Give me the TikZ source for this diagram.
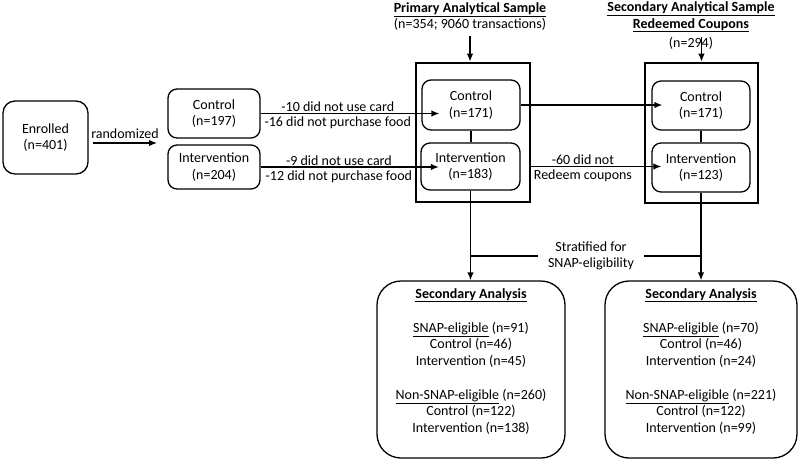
\documentclass[tikz,border=0pt]{standalone}
\usepackage{fontspec}
\setmainfont{Carlito}
\usepackage{tikz}
\usetikzlibrary{shapes,arrows,arrows.meta,positioning}
\tikzstyle{rbox} = [rectangle, rounded corners=9pt, draw=black, line width=1.3pt, align=center, inner sep=0pt]
\tikzstyle{thickframe} = [rectangle, draw=black, line width=2.6pt, inner sep=0pt]
\tikzstyle{abox} = [rectangle, rounded corners=24pt, draw=black, line width=1.3pt, minimum height=177pt]
\tikzstyle{textonly} = [draw=none, fill=none, align=center]
\tikzstyle{droplabel} = [textonly, inner sep=1pt]
\tikzstyle{tedge}  = [draw, line width=1.4pt, >={Latex[length=8pt,width=6.5pt]}, ->]
\tikzstyle{plainedge}  = [draw, line width=1.4pt]

\begin{document}
\fontsize{14}{16.5}\selectfont
\begin{tikzpicture}[x=1pt, y=-1pt]
\useasboundingbox (0,0) rectangle (800,460);

% randomization ==========================
\node[rbox, minimum width=85pt, minimum height=73pt, rounded corners=12pt] (enrolled) at (45.5,137.5) {Enrolled\\(n=401)};
\node[rbox, minimum width=92pt, minimum height=49pt] (ctrlA) at (214,113.5) {Control\\(n=197)};
\node[rbox, minimum width=92pt, minimum height=44pt] (intA) at (214,167) {Intervention\\(n=204)};
\coordinate (randstart) at (93,143);
\coordinate (randend) at (157,143);

% primary sample =========================
\node[textonly] (primtitle) at (470,16.5) {\textbf{\underline{Primary Analytical Sample}}\\(n=354; 9060 transactions)};
\node[thickframe, minimum width=114pt, minimum height=139pt] (primary) at (473,132.5) {};
\node[rbox, minimum width=98pt, minimum height=50pt] (ctrlB) at (471,105) {Control\\(n=171)};
\node[rbox, minimum width=99pt, minimum height=47pt] (intB) at (470.5,166.5) {Intervention\\(n=183)};

% secondary sample =======================
\node[textonly] (sectitle) at (691,17) {\textbf{\underline{Secondary Analytical Sample}}\\\textbf{\underline{Redeemed Coupons}}};
\node[thickframe, minimum width=113pt, minimum height=140pt] (secondary) at (701.5,133) {};
\node[rbox, minimum width=98pt, minimum height=49pt] (ctrlC) at (701,105.5) {Control\\(n=171)};
\node[rbox, minimum width=98pt, minimum height=49pt] (intC) at (701,167.5) {Intervention\\(n=123)};

% secondary analysis =====================
\node[textonly, inner xsep=10pt] (strat) at (591,256) {Stratified for\\SNAP-eligibility};
\node[abox, minimum width=188pt] (leftana) at (471,369.5) {};
\node[textonly, below=3pt of leftana.north] (lefttext) {\textbf{\underline{Secondary Analysis}}\\[17.5pt]\underline{SNAP-eligible} (n=91)\\Control (n=46)\\Intervention (n=45)\\[17.5pt]\underline{Non-SNAP-eligible} (n=260)\\Control (n=122)\\Intervention (n=138)};
\node[abox, minimum width=192pt] (rightana) at (701,369.5) {};
\node[textonly, below=3pt of rightana.north] (righttext) {\textbf{\underline{Secondary Analysis}}\\[17.5pt]\underline{SNAP-eligible} (n=70)\\Control (n=46)\\Intervention (n=24)\\[17.5pt]\underline{Non-SNAP-eligible} (n=221)\\Control (n=122)\\Intervention (n=99)};

% edges
\path[tedge] (randstart) -- node[textonly, above=-1pt] {randomized} (randend);
\path[tedge, shorten >=-18pt] (ctrlA.east) -- node[droplabel, pos=0.48, above=0pt] {-10 did not use card} node[droplabel, pos=0.48, below=2pt] {-16 did not purchase food} (ctrlA.east -| ctrlB.west);
\path[tedge, shorten >=-18.5pt] (intA.east) -- node[droplabel, pos=0.49, above=0pt] {-9 did not use card} node[droplabel, pos=0.49, below=2pt] {-12 did not purchase food} (intA.east -| intB.west);
\path[tedge] (primtitle.south) -- (primtitle.south |- primary.north);
\path[tedge] (secondary.north |- sectitle.south) -- (secondary.north);
\node[textonly] (seccount) at (691,43) {(n=294)};
\path[plainedge] (ctrlB.south) -- (ctrlB.south |- intB.north);
\path[plainedge] (ctrlC.south) -- (ctrlC.south |- intC.north);
\path[tedge, shorten >=-11pt] (ctrlB.east) -- (ctrlB.east -| ctrlC.west);
\path[tedge, shorten >=-10pt] (primary.east |- intB.east) -- node[droplabel, pos=0.43, above=0pt] {-60 did not} node[droplabel, pos=0.43, below=2pt] {Redeem coupons} (intC.west |- intB.east);
\path[tedge] (intB.south) -- (intB.south |- leftana.north);
\path[tedge] (intC.south) -- (intC.south |- rightana.north);
\path[plainedge] (strat.west) -- (strat.west -| leftana.north);
\path[plainedge] (strat.east) -- (strat.east -| rightana.north);

\end{tikzpicture}
\end{document}
